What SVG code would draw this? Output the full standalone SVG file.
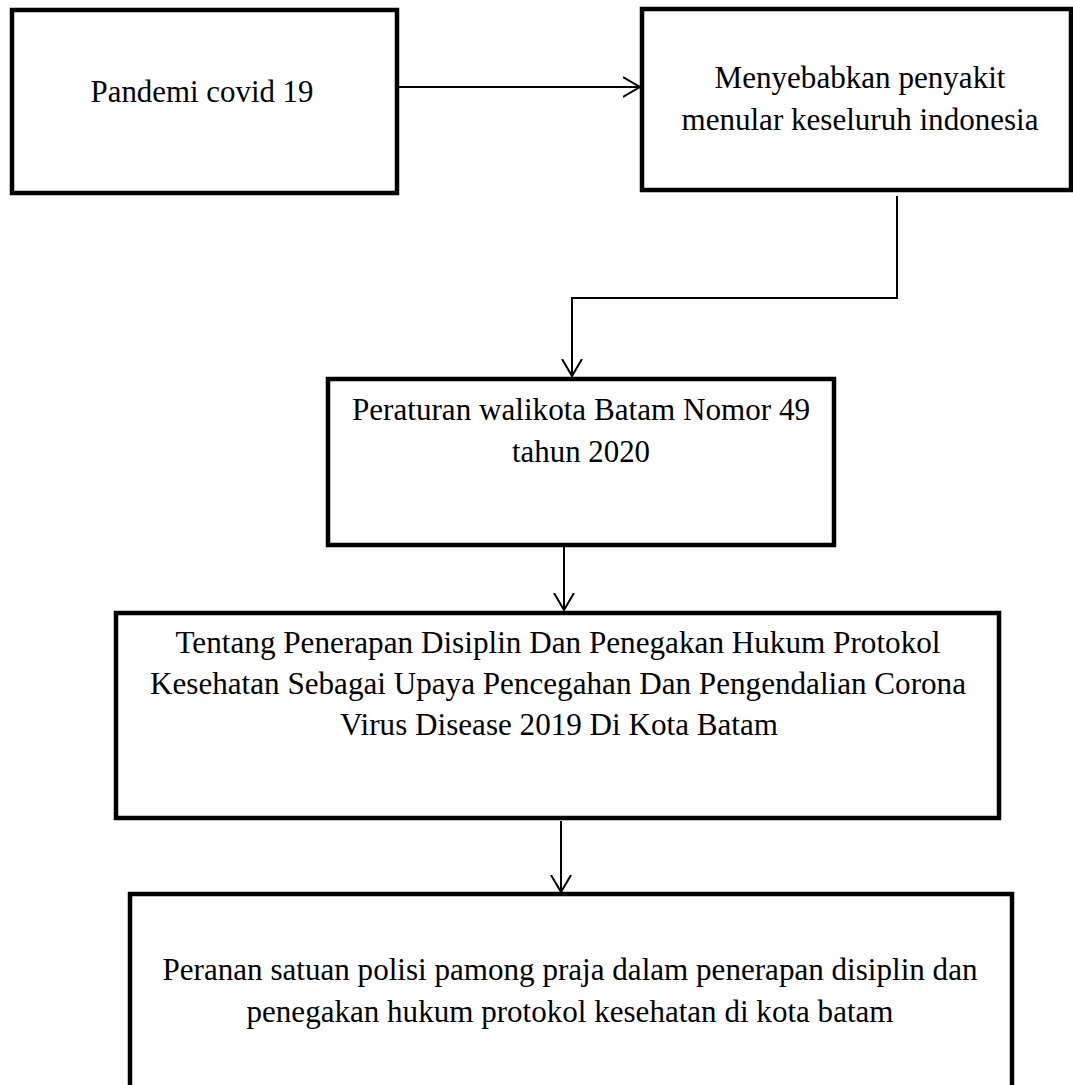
<svg xmlns="http://www.w3.org/2000/svg" width="1073" height="1085" viewBox="0 0 1073 1085">
<style>
.box{fill:#fff;stroke:#000;stroke-width:4.5}
.t{font-family:"Liberation Serif","Times New Roman",serif;font-size:32px;fill:#000;text-anchor:middle}
.c{fill:none;stroke:#000;stroke-width:2}
</style>
<defs>
<marker id="ah" markerUnits="userSpaceOnUse" markerWidth="20" markerHeight="24" refX="17" refY="10" orient="auto" viewBox="0 0 20 20">
<path d="M0,0 L17,10 L0,20" fill="none" stroke="#000" stroke-width="2"/>
</marker>
</defs>
<rect width="1073" height="1085" fill="#fff"/>
<g id="connectors">
<line class="c" x1="397" y1="87" x2="640" y2="87" marker-end="url(#ah)"/>
<polyline class="c" points="897,196 897,298 572,298 572,376" marker-end="url(#ah)"/>
<line class="c" x1="564" y1="547" x2="564" y2="610" marker-end="url(#ah)"/>
<line class="c" x1="561" y1="821" x2="561" y2="892" marker-end="url(#ah)"/>
</g>
<g id="n1">
<rect class="box" x="12" y="10" width="385" height="183"/>
<text class="t" x="202" y="102" textLength="223" lengthAdjust="spacingAndGlyphs">Pandemi covid 19</text>
</g>
<g id="n2">
<rect class="box" x="642" y="9" width="429" height="181"/>
<text class="t" x="860" y="88" textLength="291" lengthAdjust="spacingAndGlyphs">Menyebabkan penyakit</text>
<text class="t" x="860" y="130" textLength="357" lengthAdjust="spacingAndGlyphs">menular keseluruh indonesia</text>
</g>
<g id="n3">
<rect class="box" x="328" y="379" width="506" height="166"/>
<text class="t" x="581" y="420" textLength="458" lengthAdjust="spacingAndGlyphs">Peraturan walikota Batam Nomor 49</text>
<text class="t" x="581" y="462" textLength="138" lengthAdjust="spacingAndGlyphs">tahun 2020</text>
</g>
<g id="n4">
<rect class="box" x="116" y="613" width="883" height="205"/>
<text class="t" x="558" y="653" textLength="765" lengthAdjust="spacingAndGlyphs">Tentang Penerapan Disiplin Dan Penegakan Hukum Protokol</text>
<text class="t" x="558" y="694" textLength="816" lengthAdjust="spacingAndGlyphs">Kesehatan Sebagai Upaya Pencegahan Dan Pengendalian Corona</text>
<text class="t" x="559" y="735" textLength="438" lengthAdjust="spacingAndGlyphs">Virus Disease 2019 Di Kota Batam</text>
</g>
<g id="n5">
<rect class="box" x="130" y="894" width="882" height="220"/>
<text class="t" x="570" y="980" textLength="815" lengthAdjust="spacingAndGlyphs">Peranan satuan polisi pamong praja dalam penerapan disiplin dan</text>
<text class="t" x="570" y="1022" textLength="647" lengthAdjust="spacingAndGlyphs">penegakan hukum protokol kesehatan di kota batam</text>
</g>
</svg>
